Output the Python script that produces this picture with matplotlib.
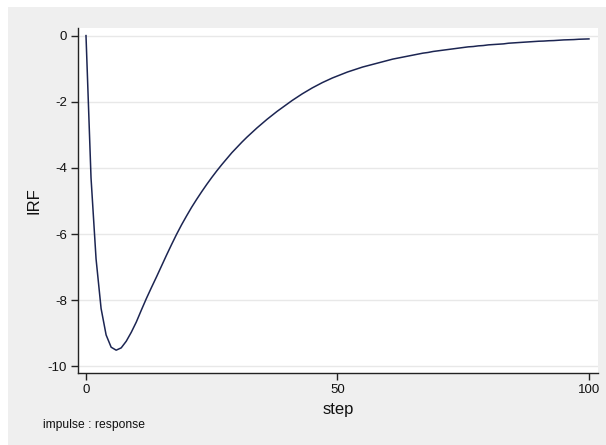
import matplotlib
matplotlib.use("Agg")
import matplotlib.pyplot as plt
from matplotlib.patches import Rectangle

steps = list(range(0, 101))
irf = [
    0.00, -4.30, -6.75, -8.25, -9.05, -9.42, -9.51, -9.44, -9.24, -8.97,
    -8.66, -8.30, -7.95, -7.62, -7.30, -6.97, -6.64, -6.32, -6.01, -5.72,
    -5.45, -5.19, -4.95, -4.72, -4.50, -4.29, -4.09, -3.90, -3.72, -3.54,
    -3.38, -3.22, -3.07, -2.93, -2.79, -2.66, -2.53, -2.41, -2.29, -2.18,
    -2.07, -1.96, -1.86, -1.76, -1.67, -1.58, -1.50, -1.42, -1.35, -1.28,
    -1.22, -1.16, -1.10, -1.05, -1.00, -0.95, -0.91, -0.87, -0.83, -0.79,
    -0.75, -0.71, -0.68, -0.65, -0.62, -0.59, -0.56, -0.53, -0.51, -0.48,
    -0.46, -0.44, -0.42, -0.40, -0.38, -0.36, -0.34, -0.33, -0.31, -0.30,
    -0.28, -0.27, -0.26, -0.25, -0.23, -0.22, -0.21, -0.20, -0.19, -0.18,
    -0.17, -0.165, -0.155, -0.15, -0.14, -0.13, -0.125, -0.12, -0.11, -0.105,
    -0.10,
]
x_ticks = [0, 50, 100]
y_ticks = [0, -2, -4, -6, -8, -10]
x_title = "step"
y_title = "IRF"
note = "impulse : response"

plt.rcParams['font.family'] = ['Liberation Sans', 'DejaVu Sans']

W, H = 606, 445
fig = plt.figure(figsize=(W / 100, H / 100), dpi=100, facecolor='white')
fig.patches.append(Rectangle((8 / W, 0), 1 - 8 / W, 1 - 7 / H, transform=fig.transFigure,
                             facecolor='#efefef', edgecolor='none', zorder=-10))

left, right, top, bottom = 78, 598, 28, 373
ax = fig.add_axes([left / W, 1 - bottom / H, (right - left) / W, (bottom - top) / H])
ax.set_zorder(5)
ax.set_facecolor('white')

ax.plot(steps, irf, color='#1c2552', lw=1.1, zorder=3)

ax.set_xlim(-1.59, 101.8)
ax.set_ylim(-10.2, 0.23)
ax.set_xticks(x_ticks)
ax.set_yticks(y_ticks)
ax.set_yticklabels([str(v) for v in y_ticks])
ax.grid(axis='y', color='#e8e8e8', lw=1.0, zorder=1)
ax.grid(axis='x', visible=False)

for s in ['top', 'right']:
    ax.spines[s].set_visible(False)
for s in ['left', 'bottom']:
    ax.spines[s].set_color('#222222')
    ax.spines[s].set_linewidth(1.0)

ax.tick_params(axis='both', direction='out', length=5, width=1.0, color='#222222',
               labelsize=9.5, labelcolor='#111111', pad=3)

ax.set_xlabel(x_title, fontsize=12, color='#111111', labelpad=4)
ax.set_ylabel(y_title, fontsize=12, color='#111111', labelpad=4)

fig.text(43 / W, 1 - 425 / H, note, fontsize=8.7, color='#111111', ha='left', va='center')

fig.savefig('out.png', dpi=100, facecolor=fig.get_facecolor())
